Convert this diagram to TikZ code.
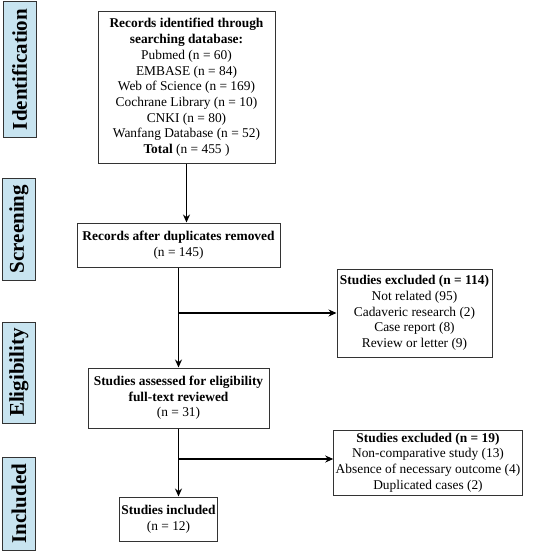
\documentclass[tikz,border=0pt]{standalone}
\usepackage{fontspec}
\setmainfont{Liberation Serif}
\usepackage{xcolor}
\usepackage{tikz}
\usetikzlibrary{positioning}
\usetikzlibrary{calc}
\usetikzlibrary{arrows.meta}
\tikzset{>=stealth}
\definecolor{phase}{RGB}{200,228,240}

\begin{document}
\begin{tikzpicture}[x=1pt, y=-1pt,
        box/.style = {draw=black!80, line width=1pt, fill=white, align=center, inner sep=2pt,
                      font=\fontsize{13.4}{15.7}\selectfont},
        phasebox/.style = {draw=black!80, line width=1pt, fill=phase, rotate=90, inner sep=0pt,
                      minimum height=33, font=\fontsize{21}{22}\selectfont\bfseries},
        flow/.style = {->, line width=1.3pt, >={Stealth[length=8pt,width=7pt]}}]
        \useasboundingbox (0,0) rectangle (546,551);
        % phases
        \node (ident) [phasebox, minimum width=135] at (19.5,69.5) {Identification};
        \node (screen) [phasebox, minimum width=102] at (19,229) {Screening};
        \node (elig) [phasebox, minimum width=101] at (19,372.5) {Eligibility};
        \node (incl) [phasebox, minimum width=93] at (19,503.5) {Included};
        % main boxes
        \node (search) [box, minimum width=177, minimum height=151] at (186.5,87.5)
            {\textbf{Records identified through}\\ \textbf{searching database:}\\ Pubmed (n = 60)\\ EMBASE (n = 84)\\
             Web of Science (n = 169)\\ Cochrane Library (n = 10)\\ CNKI (n = 80)\\ Wanfang Database (n = 52)\\
             \textbf{Total} (n = 455 )};
        \node (dedup) [box, minimum width=203, minimum height=44] at (178.5,245)
            {\textbf{Records after duplicates removed}\\ (n = 145)};
        \node (excl1) [box, minimum width=155, minimum height=88] at (414.5,313)
            {\textbf{Studies excluded (n = 114)}\\ Not related (95)\\ Cadaveric research (2)\\ Case report (8)\\ Review or letter (9)};
        \node (full) [box, minimum width=181, minimum height=60] at (178.5,398)
            {\textbf{Studies assessed for eligibility}\\ \textbf{full-text reviewed}\\ (n = 31)};
        \node (excl2) [box, minimum width=186, minimum height=65] at (428,462.5)
            {\textbf{Studies excluded (n = 19)}\\ Non-comparative study (13)\\ Absence of necessary outcome (4)\\ Duplicated cases (2)};
        \node (incl12) [box, minimum width=91, minimum height=44] at (168.5,519)
            {\textbf{Studies included}\\ (n = 12)};
        % arrows
        \draw [flow] (search.south) -- (search.south |- dedup.north);
        \draw [flow] (dedup.south) -- (dedup.south |- full.north);
        \draw [flow] (full.south) -- (full.south |- incl12.north);
        \coordinate (b1) at (dedup.south |- excl1.west);
        \coordinate (b2) at (full.south |- 0,459);
        \draw [flow] (b1) -- (excl1.west);
        \draw [flow] (b2) -- (b2 -| excl2.west);
    \end{tikzpicture}
\end{document}
